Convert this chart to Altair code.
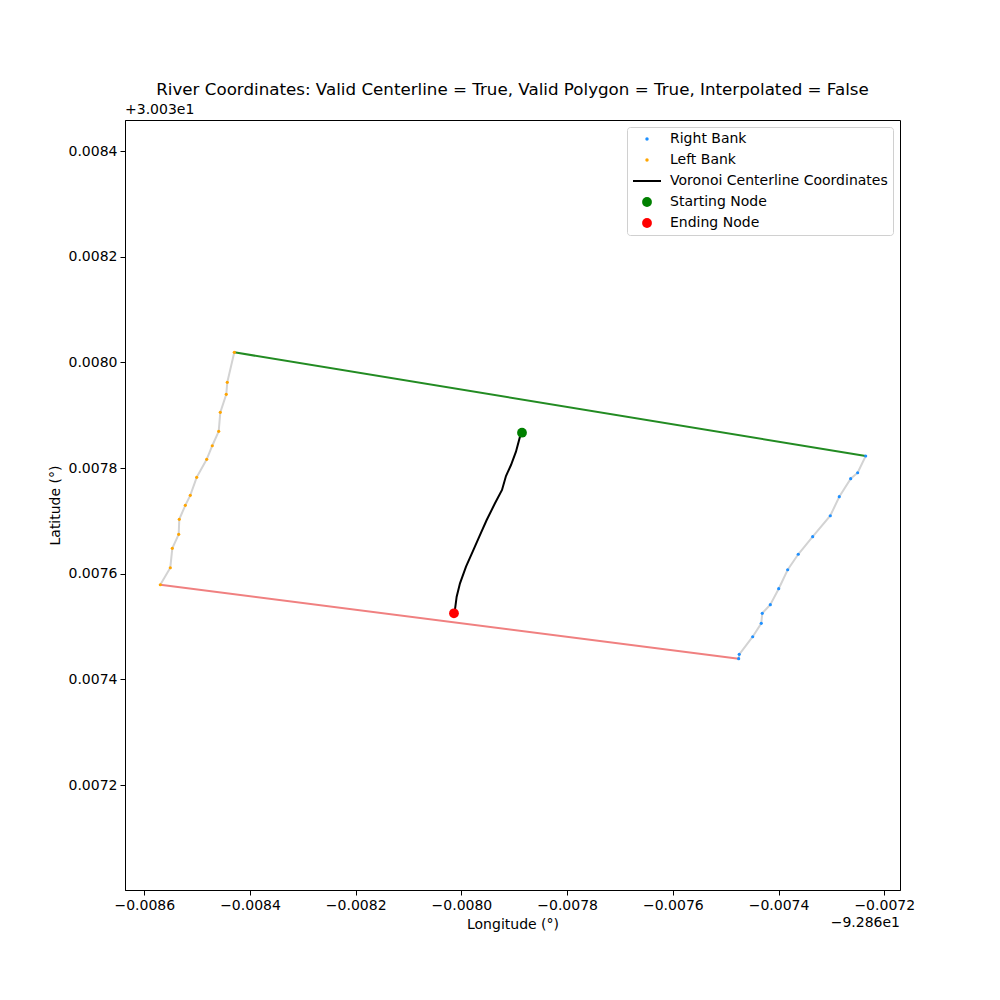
import altair as alt
import pandas as pd

# offsets: longitude = -92.86 + x, latitude = 30.03 + y
left_x = [-0.0084297, -0.0084430, -0.0084449, -0.0084562, -0.0084592, -0.0084714, -0.0084819,
          -0.0085009, -0.0085130, -0.0085224, -0.0085338, -0.0085349, -0.0085470, -0.0085508, -0.0085697]
left_y = [0.0080190, 0.0079622, 0.0079395, 0.0079054, 0.0078695, 0.0078422, 0.0078165,
          0.0077824, 0.0077483, 0.0077294, 0.0077029, 0.0076745, 0.0076480, 0.0076113, 0.0075791]

right_x = [-0.0072351, -0.0072503, -0.0072635, -0.0072851, -0.0073021, -0.0073354, -0.0073627,
           -0.0073827, -0.0073997, -0.0074156, -0.0074308, -0.0074327, -0.0074489, -0.0074743, -0.0074754]
right_y = [0.0078227, 0.0077911, 0.0077798, 0.0077457, 0.0077097, 0.0076700, 0.0076367,
           0.0076075, 0.0075716, 0.0075413, 0.0075250, 0.0075061, 0.0074807, 0.0074474, 0.0074391]

center_x = [-0.0078854, -0.0078892, -0.0078968, -0.0079062, -0.0079157, -0.0079232, -0.0079365,
            -0.0079522, -0.0079662, -0.0079787, -0.0079913, -0.0080027, -0.0080090, -0.0080127, -0.0080141]
center_y = [0.0078668, 0.0078593, 0.0078309, 0.0078057, 0.0077849, 0.0077584, 0.0077332,
            0.0077016, 0.0076700, 0.0076416, 0.0076132, 0.0075818, 0.0075564, 0.0075280, 0.0075250]

series_names = ["Right Bank", "Left Bank", "Voronoi Centerline Coordinates", "Starting Node", "Ending Node"]
series_colors = ["#1e90ff", "#ffa500", "#000000", "#008000", "#ff0000"]

title_text = "River Coordinates: Valid Centerline = True, Valid Polygon = True, Interpolated = False"
x_offset_text = "\u22129.286e1"
y_offset_text = "+3.003e1"

x_domain = [-0.0086365, -0.0071702]
y_domain = [0.0070013, 0.0084587]

FONT = "DejaVu Sans"

banks = pd.DataFrame(
    [{"x": x, "y": y, "i": i, "series": "Right Bank"} for i, (x, y) in enumerate(zip(right_x, right_y))]
    + [{"x": x, "y": y, "i": i, "series": "Left Bank"} for i, (x, y) in enumerate(zip(left_x, left_y))]
)
top_edge = pd.DataFrame({"x": [left_x[0], right_x[0]], "y": [left_y[0], right_y[0]]})
bottom_edge = pd.DataFrame({"x": [left_x[-1], right_x[-1]], "y": [left_y[-1], right_y[-1]]})
center = pd.DataFrame({"x": center_x, "y": center_y, "i": list(range(len(center_x)))})
start_node = pd.DataFrame({"x": [center_x[0]], "y": [center_y[0]]})
end_node = pd.DataFrame({"x": [center_x[-1]], "y": [center_y[-1]]})

xs = alt.Scale(domain=x_domain, nice=False, zero=False)
ys = alt.Scale(domain=y_domain, nice=False, zero=False)

X = alt.X("x:Q", scale=xs, title="Longitude (°)",
          axis=alt.Axis(values=[-0.0086, -0.0084, -0.0082, -0.0080, -0.0078, -0.0076, -0.0074, -0.0072],
                        format=".4f"))
Y = alt.Y("y:Q", scale=ys, title="Latitude (°)",
          axis=alt.Axis(values=[0.0072, 0.0074, 0.0076, 0.0078, 0.0080, 0.0082, 0.0084], format=".4f"))

bank_lines = alt.Chart(banks).mark_line(color="#d3d3d3", strokeWidth=2).encode(
    x=X, y=Y, detail="series:N", order="i:Q"
)
top_line = alt.Chart(top_edge).mark_line(color="#228b22", strokeWidth=2).encode(x=X, y=Y)
bottom_line = alt.Chart(bottom_edge).mark_line(color="#f08080", strokeWidth=2).encode(x=X, y=Y)

cl = "datum.value === 'Voronoi Centerline Coordinates'"
node = "(datum.value === 'Starting Node' || datum.value === 'Ending Node')"
legend = alt.Legend(
    title=None, orient="top-right", offset=7, padding=5,
    strokeColor="#d0d0d0", fillColor="white", cornerRadius=3,
    labelFont=FONT, labelFontSize=14, labelColor="black", labelOffset=16,
    labelLimit=400, rowPadding=7, symbolOffset=8,
    symbolType={"expr": f"{cl} ? 'M-2.8,0H2.8' : 'circle'"},
    symbolSize={"expr": f"{cl} ? 100 : {node} ? 96 : 12"},
    symbolStrokeColor={"expr": f"{cl} ? 'black' : 'transparent'"},
    symbolStrokeWidth={"expr": f"{cl} ? 2 : 0"},
)

bank_points = alt.Chart(banks).mark_circle(size=10, opacity=1).encode(
    x=X, y=Y,
    color=alt.Color("series:N", scale=alt.Scale(domain=series_names, range=series_colors), legend=legend),
)

center_line = alt.Chart(center).mark_line(color="black", strokeWidth=2).encode(x=X, y=Y, order="i:Q")
start_pt = alt.Chart(start_node).mark_circle(size=96, color="#008000", opacity=1).encode(x=X, y=Y)
end_pt = alt.Chart(end_node).mark_circle(size=96, color="#ff0000", opacity=1).encode(x=X, y=Y)

y_off = alt.Chart(pd.DataFrame({"t": [y_offset_text]})).mark_text(
    align="left", baseline="bottom", fontSize=14, font=FONT, color="black"
).encode(text="t:N", x=alt.value(0), y=alt.value(-3))
x_off = alt.Chart(pd.DataFrame({"t": [x_offset_text]})).mark_text(
    align="right", baseline="middle", fontSize=14, font=FONT, color="black"
).encode(text="t:N", x=alt.value(775), y=alt.value(803))

chart = alt.layer(
    bank_lines, top_line, bottom_line, bank_points, center_line, start_pt, end_pt, y_off, x_off
).properties(
    width=775, height=770,
    title=alt.TitleParams(title_text, fontSize=16.7, font=FONT, fontWeight="normal", color="black", offset=4),
    autosize=alt.AutoSizeParams(type="none"),
    padding={"left": 117, "top": 112, "right": 60, "bottom": 60},
).configure_view(
    stroke="black", strokeWidth=1
).configure_axis(
    grid=False, domainColor="black", tickColor="black", tickSize=5, domainWidth=1, tickWidth=1,
    labelFont=FONT, labelFontSize=14, labelColor="black", labelPadding=3,
    titleFont=FONT, titleFontSize=14, titleFontWeight="normal", titleColor="black",
).configure_axisX(titlePadding=5).configure_axisY(titlePadding=6)

chart.save("out.html", embed_options={"renderer": "svg", "actions": False})
